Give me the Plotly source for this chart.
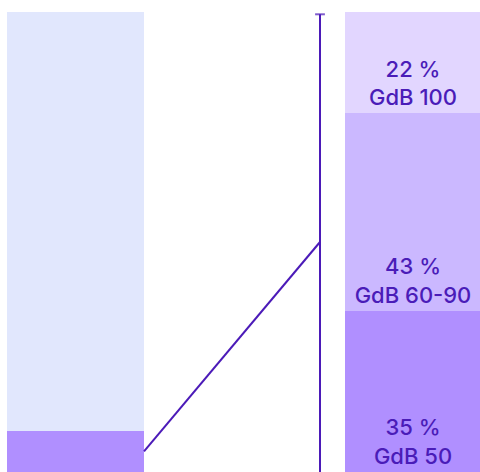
import plotly.graph_objects as go

# left column: small share highlighted at the bottom
left_labels = ['Anteil', 'Rest']
left_values = [9, 91]

# right column: breakdown of that share
right_labels = ['GdB 50', 'GdB 60-90', 'GdB 100']
right_values = [35, 43, 22]

LEFT_COLOURS = ['#b08fff', '#e1e7fd']
RIGHT_COLOURS = ['#b08fff', '#cbb8ff', '#e2d6ff']
TEXT_COLOUR = '#4a1cb8'
LINE_COLOUR = '#4b1ab8'

# x axis is laid out in pixel units of the 480px wide canvas
LEFT_X = 75.5
RIGHT_X = 413
BAR_W = 137
AXIS_X = 320

fig = go.Figure()

for val, lab, col in zip(left_values, left_labels, LEFT_COLOURS):
    fig.add_trace(go.Bar(x=[LEFT_X], y=[val], width=BAR_W, name=lab,
                         marker={'color': col, 'line': {'width': 0}},
                         hoverinfo='skip'))

for val, lab, col in zip(right_values, right_labels, RIGHT_COLOURS):
    fig.add_trace(go.Bar(x=[RIGHT_X], y=[val], width=BAR_W, name=lab,
                         marker={'color': col, 'line': {'width': 0}},
                         text=[f'{val} %<br>{lab}'], textposition='inside',
                         insidetextanchor='start', constraintext='none',
                         textangle=0,
                         textfont={'color': TEXT_COLOUR, 'size': 22, 'family': 'Inter',
                                   'weight': 500},
                         hoverinfo='skip'))

total = sum(right_values)
# vertical scale line with a cap on top
fig.add_trace(go.Scatter(x=[AXIS_X, AXIS_X], y=[0, total - 0.5], mode='lines+markers',
                         line={'color': LINE_COLOUR, 'width': 2},
                         marker={'symbol': ['line-ew', 'line-ew'], 'size': [0, 7],
                                 'line': {'color': LINE_COLOUR, 'width': 2}},
                         hoverinfo='skip'))

# connector from the highlighted share to the scale
fig.add_trace(go.Scatter(x=[LEFT_X + BAR_W / 2, AXIS_X],
                         y=[left_values[0] / 2, total / 2], mode='lines',
                         line={'color': LINE_COLOUR, 'width': 2}, hoverinfo='skip'))

fig.update_layout(barmode='stack', showlegend=False, width=480, height=472,
                  margin={'l': 0, 'r': 0, 't': 12, 'b': 0},
                  plot_bgcolor='white', paper_bgcolor='white', bargap=0)
fig.update_xaxes(range=[0, 480], visible=False, fixedrange=True)
fig.update_yaxes(range=[0, 100], visible=False, fixedrange=True)

# drop the default page margin so the chart sits flush in the window
fig.write_html('out.html', config={'displayModeBar': False, 'staticPlot': True},
               post_script="document.body.style.margin='0';"
                           "document.body.style.overflow='hidden';")
